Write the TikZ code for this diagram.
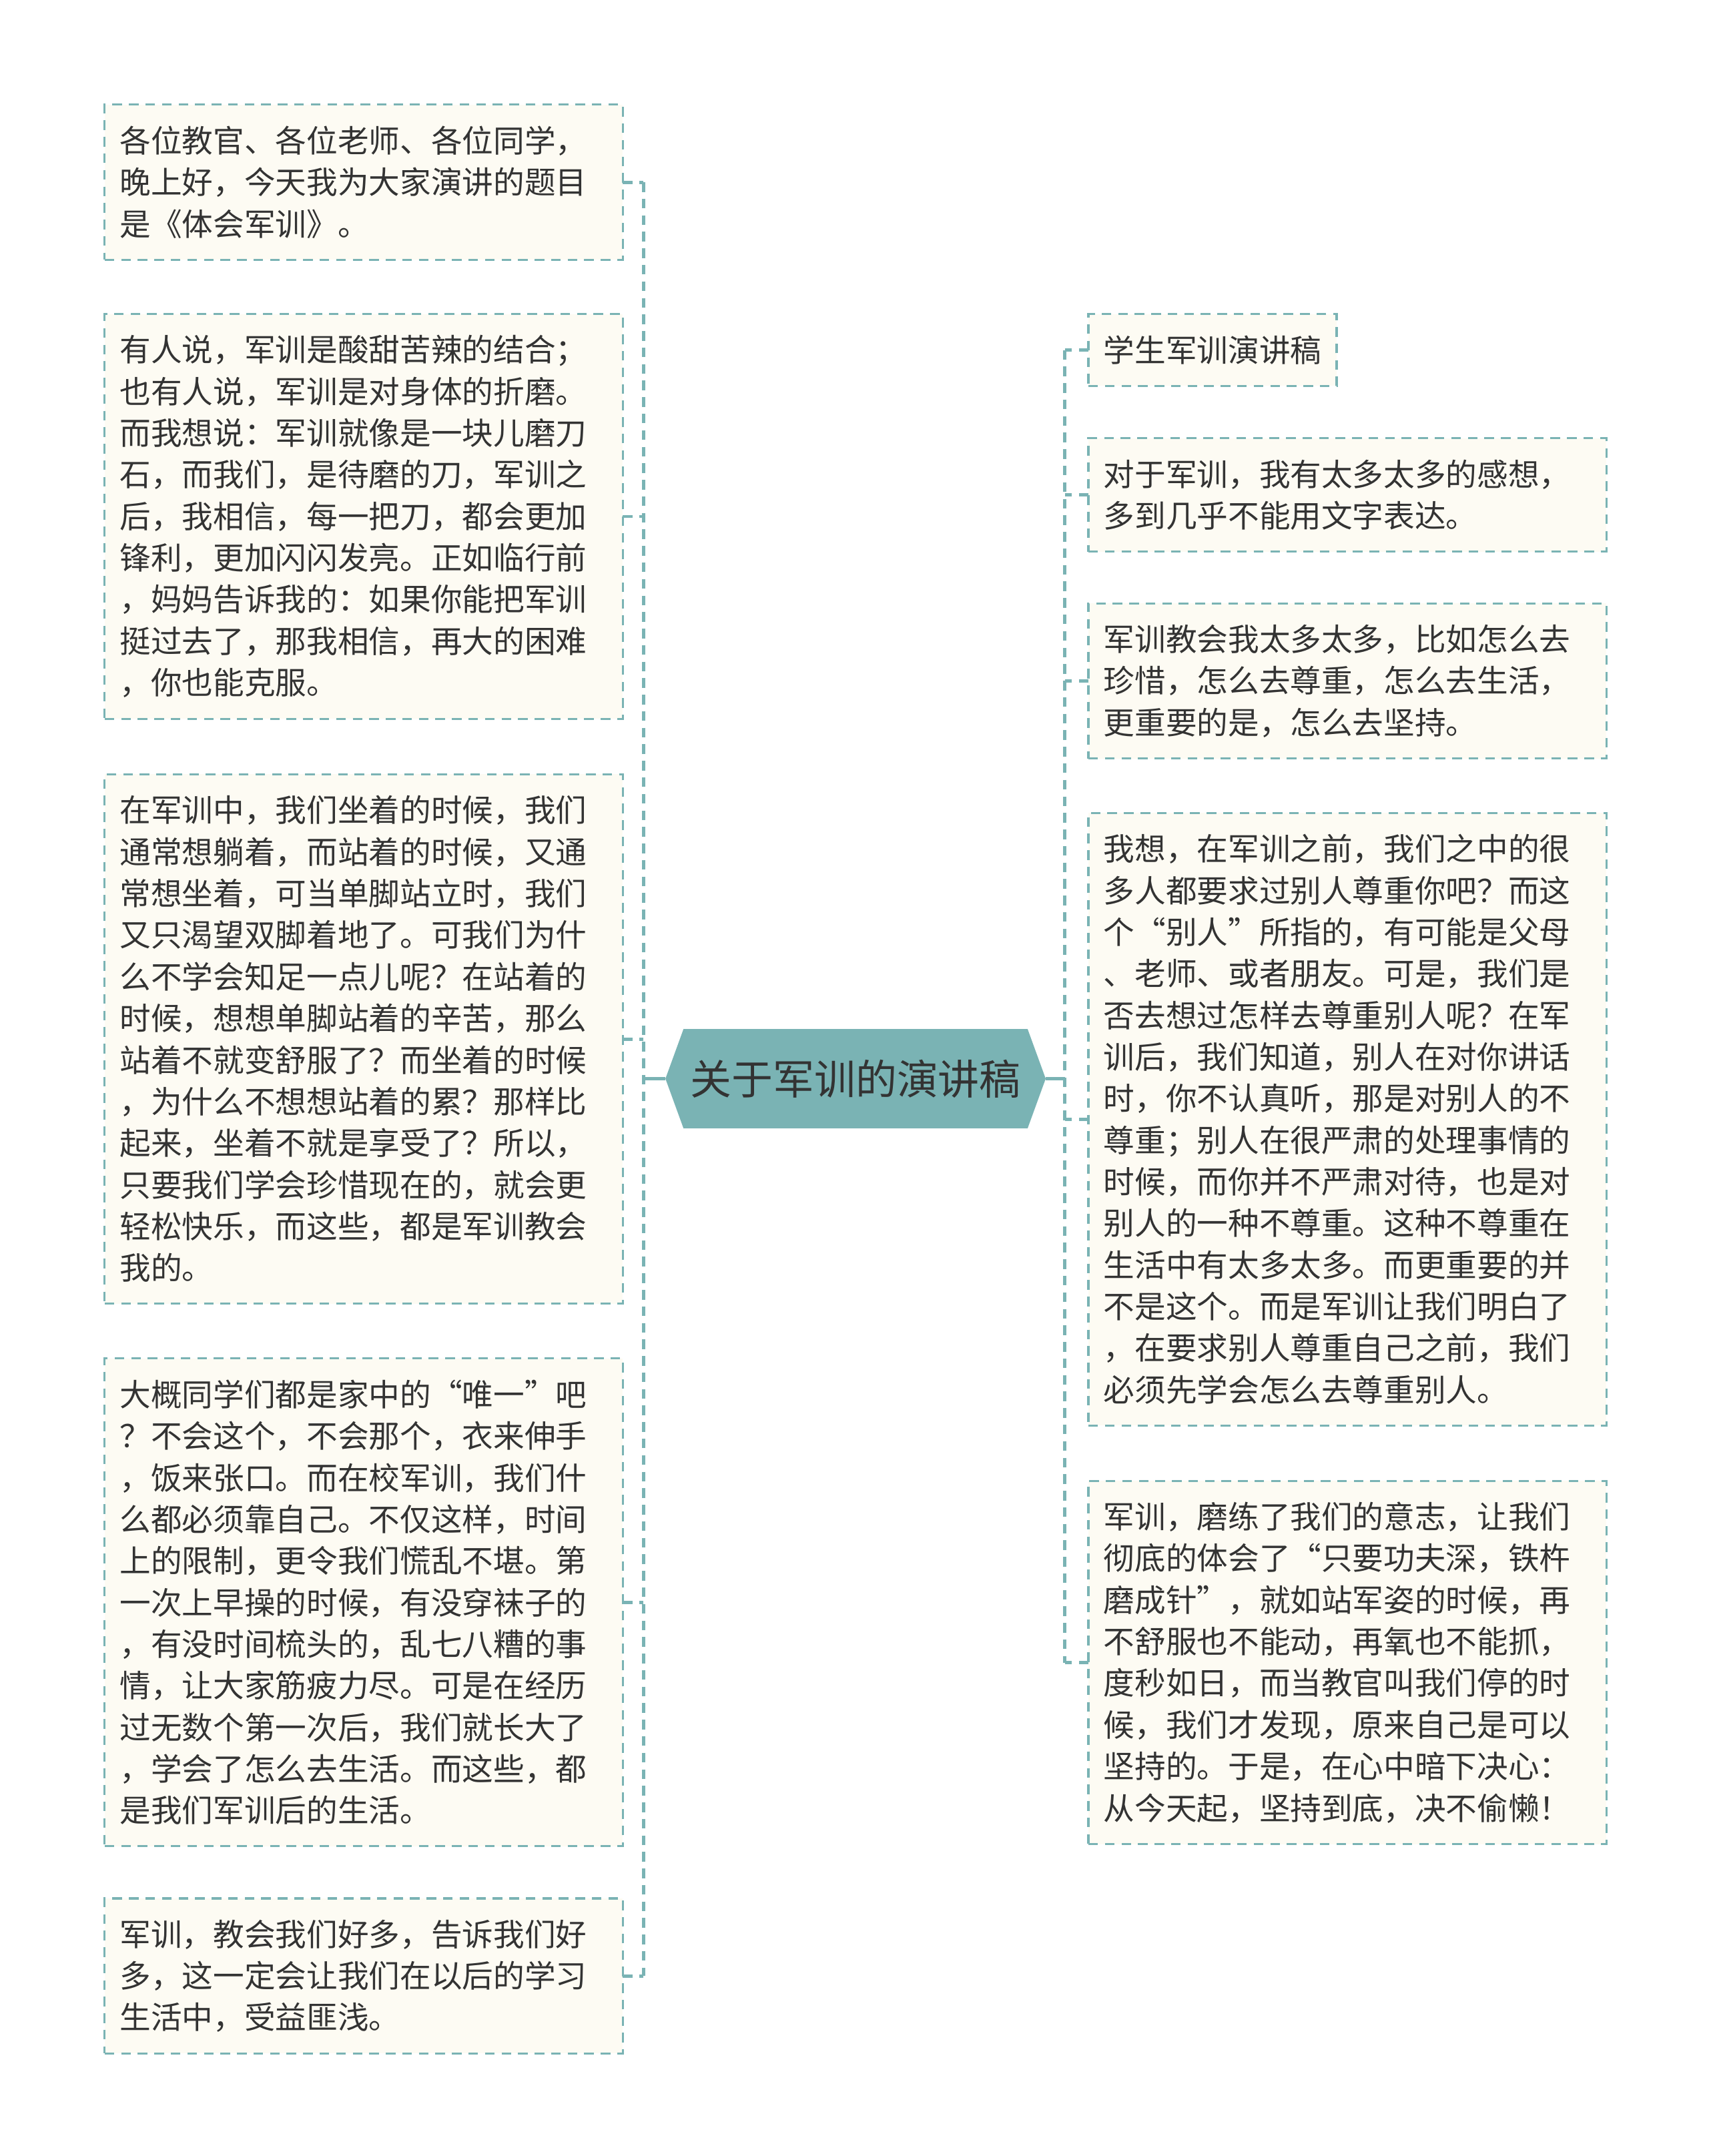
\documentclass[tikz,border=0pt]{standalone}
\usepackage{fontspec}
\setmainfont{Noto Sans CJK SC}
\usepackage{tikz}
\usetikzlibrary{shapes.symbols}
\definecolor{teal}{HTML}{7AB3B4}
\definecolor{cream}{HTML}{FDFBF3}
\definecolor{ink}{HTML}{333333}
\newcommand{\bodyfont}{\fontsize{22.6}{30.2}\selectfont}

\begin{document}
\begin{tikzpicture}[x=1pt, y=-1pt,
    topic/.style={shape=signal, signal to=west and east, signal pointer angle=140,
      fill=teal, text=ink, minimum width=276, minimum height=72, inner sep=0,
      font=\fontsize{30}{36}\selectfont},
    leaf/.style={draw=teal, fill=cream, line width=1.5, dash pattern=on 7 off 5,
      text=ink, anchor=north west, inner xsep=11, inner ysep=0, outer sep=0,
      align=left, font=\bodyfont},
    wide/.style={leaf, text width=354},
    link/.style={draw=teal, line width=2.4, dash pattern=on 7 off 5},
    trunk/.style={draw=teal, line width=2.2}]
    \fill[white] (0, 0) rectangle (1240, 1565);
    \useasboundingbox (0, 0) rectangle (1240, 1565);
    \coordinate (lspine) at (467, 0);
    \coordinate (rspine) at (773, 0);
    \node[topic] (root) at (621, 783) {关于军训的演讲稿};
    % left side
    \node[wide, minimum height=112.6] (l1) at (76, 76) {各位教官、各位老师、各位同学，\\晚上好，今天我为大家演讲的题目\\是《体会军训》。};
    \node[wide, minimum height=293.8] (l2) at (76, 228) {有人说，军训是酸甜苦辣的结合；\\也有人说，军训是对身体的折磨。\\而我想说：军训就像是一块儿磨刀\\石，而我们，是待磨的刀，军训之\\后，我相信，每一把刀，都会更加\\锋利，更加闪闪发亮。正如临行前\\，妈妈告诉我的：如果你能把军训\\挺过去了，那我相信，再大的困难\\，你也能克服。};
    \node[wide, minimum height=384.4] (l3) at (76, 562) {在军训中，我们坐着的时候，我们\\通常想躺着，而站着的时候，又通\\常想坐着，可当单脚站立时，我们\\又只渴望双脚着地了。可我们为什\\么不学会知足一点儿呢？在站着的\\时候，想想单脚站着的辛苦，那么\\站着不就变舒服了？而坐着的时候\\，为什么不想想站着的累？那样比\\起来，坐着不就是享受了？所以，\\只要我们学会珍惜现在的，就会更\\轻松快乐，而这些，都是军训教会\\我的。};
    \node[wide, minimum height=354.2] (l4) at (76, 986) {大概同学们都是家中的“唯一”吧\\？不会这个，不会那个，衣来伸手\\，饭来张口。而在校军训，我们什\\么都必须靠自己。不仅这样，时间\\上的限制，更令我们慌乱不堪。第\\一次上早操的时候，有没穿袜子的\\，有没时间梳头的，乱七八糟的事\\情，让大家筋疲力尽。可是在经历\\过无数个第一次后，我们就长大了\\，学会了怎么去生活。而这些，都\\是我们军训后的生活。};
    \node[wide, minimum height=112.6] (l5) at (76, 1378) {军训，教会我们好多，告诉我们好\\多，这一定会让我们在以后的学习\\生活中，受益匪浅。};
    % right side
    \node[leaf, minimum height=52.2] (r1) at (790, 228) {学生军训演讲稿};
    \node[wide, minimum height=82.4] (r2) at (790, 318) {对于军训，我有太多太多的感想，\\多到几乎不能用文字表达。};
    \node[wide, minimum height=112.6] (r3) at (790, 438) {军训教会我太多太多，比如怎么去\\珍惜，怎么去尊重，怎么去生活，\\更重要的是，怎么去坚持。};
    \node[wide, minimum height=444.8] (r4) at (790, 590) {我想，在军训之前，我们之中的很\\多人都要求过别人尊重你吧？而这\\个“别人”所指的，有可能是父母\\、老师、或者朋友。可是，我们是\\否去想过怎样去尊重别人呢？在军\\训后，我们知道，别人在对你讲话\\时，你不认真听，那是对别人的不\\尊重；别人在很严肃的处理事情的\\时候，而你并不严肃对待，也是对\\别人的一种不尊重。这种不尊重在\\生活中有太多太多。而更重要的并\\不是这个。而是军训让我们明白了\\，在要求别人尊重自己之前，我们\\必须先学会怎么去尊重别人。};
    \node[wide, minimum height=263.6] (r5) at (790, 1075) {军训，磨练了我们的意志，让我们\\彻底的体会了“只要功夫深，铁杵\\磨成针”，就如站军姿的时候，再\\不舒服也不能动，再氧也不能抓，\\度秒如日，而当教官叫我们停的时\\候，我们才发现，原来自己是可以\\坚持的。于是，在心中暗下决心：\\从今天起，坚持到底，决不偷懒！};
    % connectors
    \draw[trunk] (root.west) -- (root.west -| lspine);
    \draw[trunk] (root.east) -- (root.east -| rspine);
    \draw[link] (l1.east -| lspine) -- (l5.east -| lspine);
    \draw[link] (r1.west -| rspine) -- (r5.west -| rspine);
    \foreach \n in {l1,l2,l3,l4,l5}
      \draw[link] (\n.east) -- (\n.east -| lspine);
    \foreach \n in {r1,r2,r3,r4,r5}
      \draw[link] (\n.west) -- (\n.west -| rspine);
\end{tikzpicture}
\end{document}
